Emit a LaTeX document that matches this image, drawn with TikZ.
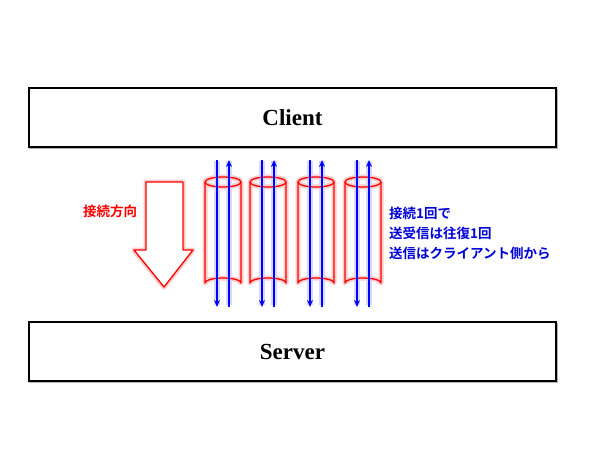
\documentclass[tikz,border=0pt]{standalone}
\usepackage{fontspec}
\setmainfont{Liberation Serif}
\newfontfamily\jp{Noto Sans CJK JP}[BoldFont={* Bold}]
\usetikzlibrary{arrows.meta}
\begin{document}
\begin{tikzpicture}[x=1pt,y=-1pt,
  tier/.style={draw=black,line width=1.3pt,fill=white,minimum width=527pt,minimum height=59pt,inner sep=0pt,font=\bfseries\fontsize{23}{26}\selectfont,
    preaction={draw=black!30,line width=1.5pt,transform canvas={xshift=1pt,yshift=-1.5pt}}},
  redglow/.style={draw=red!20,line width=5pt,line join=round},
  redline/.style={draw=red,line width=1.3pt,line join=round},
  blueglow/.style={draw=blue!15,line width=6pt},
  blueline/.style={draw=blue,line width=1.6pt,-{Stealth[length=7pt,width=6pt]}},
  redlabel/.style={text=red,font=\jp\bfseries\fontsize{13.5}{16}\selectfont,inner sep=0pt},
  bluelabel/.style={text=blue!85!black,font=\jp\bfseries\fontsize{13.5}{20}\selectfont,align=left,inner sep=0pt}
]
\useasboundingbox (0,0) rectangle (600,450);
\fill[white] (0,0) rectangle (600,450);

\node[tier] (client) at (292.5,117.5) {Client};
\node[tier] (server) at (292.5,351.5) {Server};

% glows first
\draw[redglow] (146,182) -- (183,182) -- (183,250) -- (193,250) -- (164,287) -- (134,250) -- (146,250) -- cycle;
\foreach \c in {223,268,316,363}{
  \draw[redglow] (\c-18,182) -- (\c-18,283) arc[start angle=180,end angle=360,x radius=18,y radius=5] -- (\c+18,182);
  \draw[redglow] (\c,182) ellipse[x radius=18,y radius=5];
}
\foreach \c in {223,268,316,363}{
  \draw[blueglow] (\c-6,161) -- (\c-6,305);
  \draw[blueglow] (\c+6,305) -- (\c+6,161);
}

% big hollow arrow
\fill[white] (146,182) -- (183,182) -- (183,250) -- (193,250) -- (164,287) -- (134,250) -- (146,250) -- cycle;
\draw[redline] (146,182) -- (183,182) -- (183,250) -- (193,250) -- (164,287) -- (134,250) -- (146,250) -- cycle;
\node[redlabel] (dir) at (110,211) {接続方向};

% cylinders
\foreach \c/\n in {223/a,268/b,316/c,363/d}{
  \coordinate (t\n) at (\c,182);
  \draw[redline] (\c-18,182) -- (\c-18,283) arc[start angle=180,end angle=360,x radius=18,y radius=5] -- (\c+18,182);
  \draw[redline] (t\n) ellipse[x radius=18,y radius=5];
}
\foreach \c/\n in {223/a,268/b,316/c,363/d}{
  \coordinate (dt\n) at (\c-6,160);
  \coordinate (db\n) at (\c-6,307);
  \coordinate (ut\n) at (\c+6,160);
  \coordinate (ub\n) at (\c+6,307);
  \draw[blueline] (dt\n) -- (db\n);
  \draw[blueline] (ub\n) -- (ut\n);
}

\node[bluelabel,anchor=west] (note) at (389,233) {接続1回で\\送受信は往復1回\\送信はクライアント側から};
\end{tikzpicture}
\end{document}
